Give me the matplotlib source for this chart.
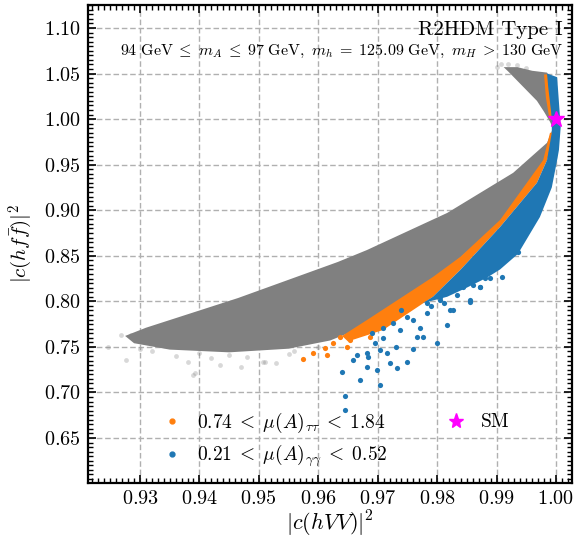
import matplotlib
matplotlib.use("Agg")
import matplotlib.pyplot as plt
from matplotlib.lines import Line2D
from matplotlib.ticker import MultipleLocator

plt.rcParams['font.family'] = 'serif'
plt.rcParams['font.serif'] = ['cmr10']
plt.rcParams['mathtext.fontset'] = 'cm'
plt.rcParams['axes.formatter.use_mathtext'] = True

# outline of the dense grey cloud (all allowed points)
grey_x = [0.9275, 0.9310, 0.9465, 0.9633, 0.9682, 0.9817, 0.9928, 0.9985, 0.9995,
          0.9990, 0.9980, 0.9968, 0.9950, 0.9935, 0.9920, 0.9912, 0.9935, 0.9960,
          0.9985, 1.0000, 1.0005, 0.9985, 0.9906, 0.9793, 0.9700, 0.9620, 0.9550,
          0.9450, 0.9350, 0.9290]
grey_y = [0.7620, 0.7710, 0.8036, 0.8432, 0.8563, 0.8970, 0.9410, 0.9740, 0.9900,
          0.9970, 1.0080, 1.0200, 1.0320, 1.0420, 1.0520, 1.0570, 1.0570, 1.0530,
          1.0510, 1.0300, 1.0000, 0.9550, 0.8860, 0.8220, 0.7780, 0.7570, 0.7480,
          0.7440, 0.7470, 0.7540]

# loose grey points around the cloud edge
grey_pts_x = [0.9246, 0.9268, 0.9276, 0.9285, 0.9381, 0.9393, 0.9435, 0.9470, 0.9507,
              0.9510, 0.9529, 0.9389, 0.9320, 0.9360, 0.9420, 0.9480, 0.9550, 0.9300,
              0.9900, 0.9908, 0.9920, 0.9935, 0.9950, 0.9560, 0.9600, 0.9450, 0.9400]
grey_pts_y = [0.7500, 0.7630, 0.7360, 0.7630, 0.7334, 0.7213, 0.7300, 0.7280, 0.7330,
              0.7334, 0.7323, 0.7190, 0.7450, 0.7400, 0.7380, 0.7390, 0.7420, 0.7480,
              1.0570, 1.0600, 1.0600, 1.0590, 1.0560, 0.7450, 0.7500, 0.7410, 0.7430]

# tau tau band
tau_x = [0.9640, 0.9682, 0.9793, 0.9839, 0.9906, 0.99785, 0.9990, 0.9995,
         0.9985, 0.9968, 0.9906, 0.9839, 0.9793, 0.9709, 0.9650]
tau_y = [0.7620, 0.7795, 0.8267, 0.8487, 0.8893, 0.9550, 0.9850, 0.9850,
         0.9550, 0.9300, 0.8816, 0.8344, 0.8050, 0.7685, 0.7560]
tau_top_x = [0.9980, 0.9986, 0.9990, 0.9993, 0.9989, 0.9983]
tau_top_y = [1.0490, 1.0490, 1.0240, 1.0000, 1.0000, 1.0240]
tau_pts_x = [0.9574, 0.9591, 0.9611, 0.9615, 0.9625, 0.9637, 0.9653, 0.9648, 0.9670,
             0.9682, 0.9692, 0.9716, 0.9687, 0.9665, 0.9699]
tau_pts_y = [0.7367, 0.7433, 0.7488, 0.7410, 0.7543, 0.7610, 0.7576, 0.7500, 0.7665,
             0.7718, 0.7762, 0.7828, 0.7610, 0.7686, 0.7773]

# gamma gamma band
gam_x = [0.9985, 1.0002, 1.0008, 1.0005, 1.0002, 0.9993, 0.9973, 0.9936, 0.9906,
         0.9884, 0.9850, 0.9817, 0.9776, 0.9793, 0.9839, 0.9906, 0.9968, 0.9985,
         0.9993, 0.9993, 0.9987]
gam_y = [1.0500, 1.0460, 0.9913, 0.9660, 0.9550, 0.9250, 0.8925, 0.8520, 0.8350,
         0.8260, 0.8150, 0.8050, 0.7980, 0.8050, 0.8344, 0.8816, 0.9300, 0.9550,
         0.9850, 1.0020, 1.0350]
gam_pts_x = [0.9645, 0.9645, 0.9640, 0.9670, 0.9665, 0.9682, 0.9704, 0.9699, 0.9732,
             0.9749, 0.9720, 0.9682, 0.9695, 0.9716, 0.9766, 0.9800, 0.9817, 0.9771,
             0.9738, 0.9709, 0.9749, 0.9783, 0.9822, 0.9855, 0.9833, 0.9889, 0.9872,
             0.9805, 0.9726, 0.9709, 0.9658, 0.9776, 0.9827, 0.9855, 0.9783, 0.9805,
             0.9936, 0.9892, 0.9909, 0.9881, 0.9860, 0.9843, 0.9872, 0.9684, 0.9704,
             0.9760, 0.9790, 0.9740, 0.9812, 0.9760, 0.9730, 0.9690]
gam_pts_y = [0.6807, 0.6960, 0.7224, 0.7136, 0.7410, 0.7280, 0.7080, 0.7246, 0.7270,
             0.7334, 0.7323, 0.7433, 0.7543, 0.7433, 0.7609, 0.7543, 0.7740, 0.7710,
             0.7686, 0.7598, 0.7828, 0.7870, 0.7905, 0.8015, 0.8070, 0.8256, 0.8157,
             0.8015, 0.7762, 0.7707, 0.7356, 0.7610, 0.7900, 0.7990, 0.7980, 0.8050,
             0.8540, 0.8400, 0.8270, 0.8256, 0.8180, 0.8157, 0.8157, 0.7390, 0.7466,
             0.7790, 0.7950, 0.7900, 0.7980, 0.7480, 0.7500, 0.7650]

sm_x, sm_y = 1.0, 1.0

grey = '#808080'
orange = '#ff7f0e'
blue = '#1f77b4'

fig = plt.figure(figsize=(5.75, 5.41), dpi=100)
ax = fig.add_axes([88 / 575, 1 - 483 / 541, 484 / 575, 478 / 541])

ax.scatter(grey_pts_x, grey_pts_y, s=12, color=grey, alpha=0.3, lw=0, zorder=2)
ax.fill(grey_x, grey_y, color=grey, lw=0, zorder=2)
ax.fill(tau_x, tau_y, color=orange, lw=0, zorder=3)
ax.fill(tau_top_x, tau_top_y, color=orange, lw=0, zorder=3)
ax.scatter(tau_pts_x, tau_pts_y, s=14, color=orange, lw=0, zorder=3)
ax.fill(gam_x, gam_y, color=blue, lw=0, zorder=4)
ax.scatter(gam_pts_x, gam_pts_y, s=14, color=blue, lw=0, zorder=4)
ax.plot(sm_x, sm_y, marker='*', color='magenta', ms=12, ls='none', zorder=6, clip_on=False)

ax.set_xlim(0.92125, 1.0027)
ax.set_ylim(0.6006, 1.1252)
ax.xaxis.set_major_locator(MultipleLocator(0.01))
ax.xaxis.set_minor_locator(MultipleLocator(0.001))
ax.yaxis.set_major_locator(MultipleLocator(0.05))
ax.yaxis.set_minor_locator(MultipleLocator(0.005))
ax.tick_params(which='both', direction='in', top=True, right=True, labelsize=14.5, pad=5)
ax.tick_params(which='major', length=6, width=1.2)
ax.tick_params(which='minor', length=3.5, width=1.0)
for sp in ax.spines.values():
    sp.set_linewidth(1.6)
ax.grid(True, ls=(0, (4, 2)), color='#b0b0b0', lw=1.0, zorder=0)
ax.set_axisbelow(True)

ax.set_xlabel(r'$|c(hVV)|^2$', fontsize=16)
ax.set_ylabel(r'$|c(hf\bar{f})|^2$', fontsize=15)
ax.xaxis.set_label_coords(0.5, -0.055)
ax.yaxis.set_label_coords(-0.11, 0.5)

ax.text(0.981, 0.937, 'R2HDM Type I', transform=ax.transAxes, ha='right', va='baseline',
        fontsize=15)
ax.text(0.981, 0.895,
        r'$94\ \mathrm{GeV}\;\leq\; m_A\;\leq\;97\ \mathrm{GeV},\ m_h\;=\;125.09\ \mathrm{GeV},'
        r'\ m_H\;>\;130\ \mathrm{GeV}$',
        transform=ax.transAxes, ha='right', va='baseline', fontsize=11.5)

handles = [
    Line2D([], [], marker='o', color=orange, ls='none', ms=3.5),
    Line2D([], [], marker='o', color=blue, ls='none', ms=3.5),
    Line2D([], [], marker='*', color='magenta', ls='none', ms=11),
]
labels = [r'$0.74\;<\;\mu(A)_{\tau\tau}\;<\;1.84$',
          r'$0.21\;<\;\mu(A)_{\gamma\gamma}\;<\;0.52$', 'SM']
ax.legend(handles, labels, ncol=2, loc='lower left', bbox_to_anchor=(0.117, -0.008),
          frameon=False, fontsize=14, handlelength=1.0, handletextpad=0.8,
          columnspacing=3.0, labelspacing=0.45)

fig.savefig('out.png', dpi=100)
